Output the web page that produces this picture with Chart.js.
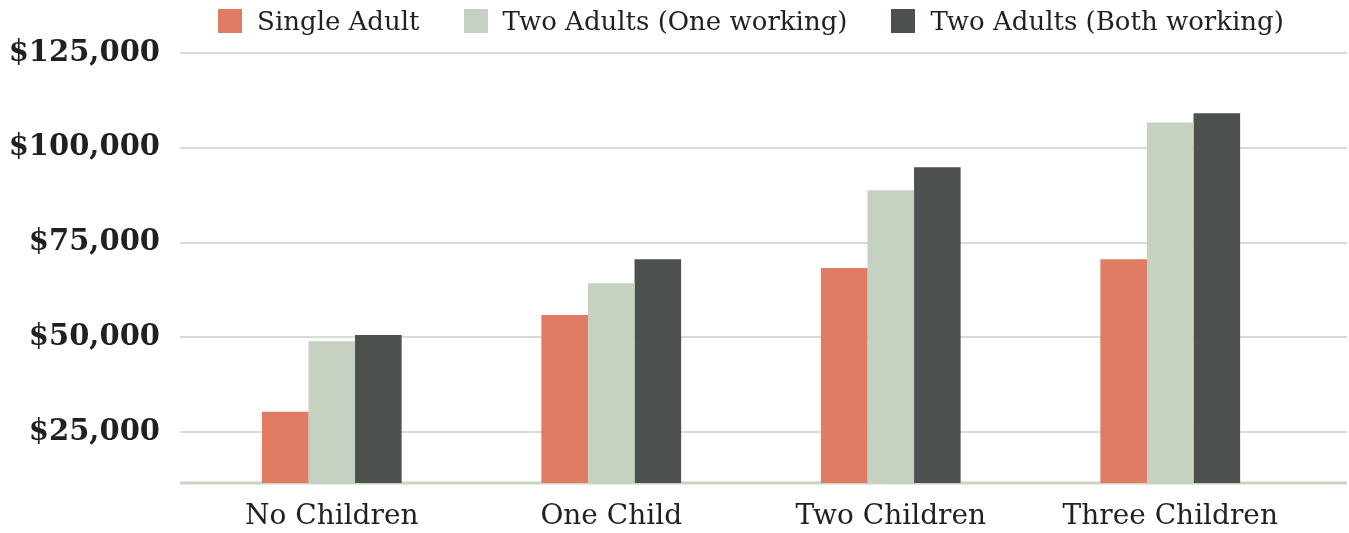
<!DOCTYPE html>
<html>
<head>
<meta charset="utf-8">
<script src="https://cdn.jsdelivr.net/npm/chart.js@4"></script>
<style>
    html, body { margin: 0; padding: 0; background: #ffffff; }
    .chart-wrap { position: relative; width: 1349px; height: 533px; }
    .chart-legend {
        position: absolute;
        top: 7px;
        display: flex;
        justify-content: center;
        align-items: center;
        font-family: "DejaVu Serif", serif;
        font-size: 26px;
        color: #231f20;
        line-height: 28px;
    }
    .legend-item { display: flex; align-items: center; margin: 0 22px; white-space: nowrap; }
    .legend-box { width: 24px; height: 24px; margin-right: 15px; }
</style>
</head>
<body>
<div class="chart-wrap">
    <canvas id="chart" width="1349" height="533"></canvas>
    <div class="chart-legend" id="legend"></div>
</div>
<script>
const categories = ["No Children", "One Child", "Two Children", "Three Children"];
const seriesNames = ["Single Adult", "Two Adults (One working)", "Two Adults (Both working)"];
const singleAdult = [30400, 55900, 68300, 70600];
const twoAdultsOneWorking = [49000, 64300, 88800, 106700];
const twoAdultsBothWorking = [50600, 70600, 94900, 109100];
const seriesColors = ["#e07b64", "#c5d1c1", "#4d514d"];
const yTickValues = [25000, 50000, 75000, 100000, 125000];

const textColor = "#231f20";
const gridColor = "#d6ded4";
const baseColor = "#c9d4c6";

// grid lines run past the plot area on both sides, like the original
const wideGrid = {
    id: "wideGrid",
    beforeDatasetsDraw(chart) {
        const { ctx, chartArea, scales } = chart;
        const yScale = scales.y;
        const left = chartArea.left - 12;
        const right = chart.width - 2;
        ctx.save();
        ctx.strokeStyle = gridColor;
        ctx.lineWidth = 2;
        yScale.ticks.forEach((tick) => {
            const y = Math.round(yScale.getPixelForValue(tick.value));
            ctx.beginPath();
            ctx.moveTo(left, y);
            ctx.lineTo(right, y);
            ctx.stroke();
        });
        ctx.strokeStyle = baseColor;
        ctx.lineWidth = 3;
        ctx.beginPath();
        ctx.moveTo(left, chartArea.bottom);
        ctx.lineTo(right, chartArea.bottom);
        ctx.stroke();
        ctx.restore();
    }
};

function renderLegend(chart) {
    const legend = document.getElementById("legend");
    legend.innerHTML = "";
    legend.style.left = chart.chartArea.left + "px";
    legend.style.width = (chart.chartArea.right - chart.chartArea.left) + "px";
    chart.data.datasets.forEach((ds) => {
        const item = document.createElement("div");
        item.className = "legend-item";
        const box = document.createElement("span");
        box.className = "legend-box";
        box.style.background = ds.backgroundColor;
        const label = document.createElement("span");
        label.textContent = ds.label;
        item.appendChild(box);
        item.appendChild(label);
        legend.appendChild(item);
    });
}

const seriesValues = [singleAdult, twoAdultsOneWorking, twoAdultsBothWorking];

const chart = new Chart(document.getElementById("chart"), {
    type: "bar",
    data: {
        labels: categories,
        datasets: seriesNames.map((name, i) => ({
            label: name,
            data: seriesValues[i],
            backgroundColor: seriesColors[i],
            borderWidth: 0,
            categoryPercentage: 0.5,
            barPercentage: 1.0
        }))
    },
    options: {
        responsive: false,
        animation: false,
        layout: {
            padding: { top: 53, right: 39, left: 0, bottom: 0 }
        },
        plugins: {
            legend: { display: false },
            tooltip: { enabled: false }
        },
        scales: {
            x: {
                grid: { display: false, drawTicks: false },
                border: { display: false },
                ticks: {
                    color: textColor,
                    padding: 17,
                    font: { family: "DejaVu Serif", size: 28 }
                },
                afterFit: (scale) => { scale.height = 50; }
            },
            y: {
                min: 11600,
                max: 125000,
                grid: { display: false, drawTicks: false },
                border: { display: false },
                ticks: {
                    color: textColor,
                    padding: 32,
                    font: { family: "DejaVu Serif", size: 29, weight: "bold" },
                    callback: (value) => "$" + value.toLocaleString("en-US")
                },
                afterBuildTicks: (scale) => {
                    scale.ticks = yTickValues.map((v) => ({ value: v }));
                },
                afterFit: (scale) => { scale.width = 192; }
            }
        }
    },
    plugins: [wideGrid]
});

renderLegend(chart);
</script>
</body>
</html>
